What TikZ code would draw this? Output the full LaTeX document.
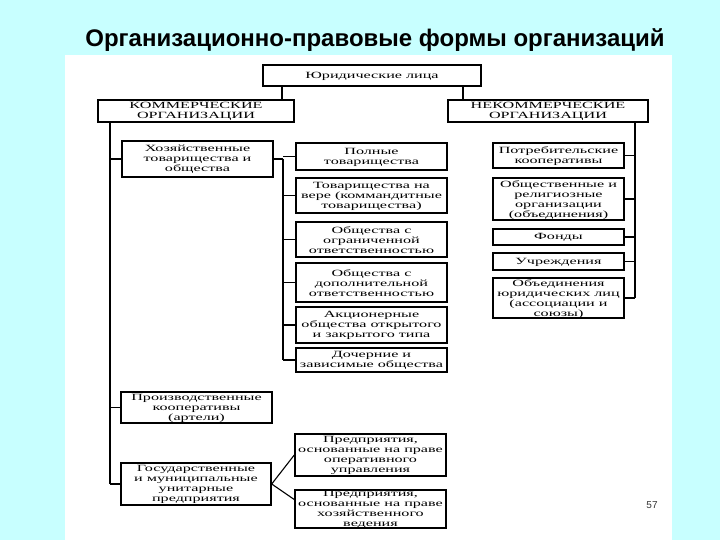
\documentclass[tikz,border=0pt]{standalone}
\usepackage{fontspec}
\setmainfont{Liberation Serif}
\newfontfamily\boxfont[FakeStretch=1.7]{Liberation Serif}
\newfontfamily\titlefont{Liberation Sans}
\usetikzlibrary{calc}
\definecolor{bgcyan}{RGB}{200,255,255}
\newcommand\orgnode[5]{%
  \node[orgbox,minimum width=#2,minimum height=#3] (#1) at (#4) {};
  \node[orgtext] (#1-t) at ($(#1.center)+(0,0.7)$) {#5};}
\begin{document}
\begin{tikzpicture}[x=1pt,y=-1pt,
  orgbox/.style={draw,line width=1.4pt,inner sep=0pt},
  orgtext/.style={align=center,inner sep=0pt,
    font=\boxfont\fontsize{9.5}{10}\selectfont},
  link/.style={line width=1.1pt}]
\fill[bgcyan] (0,0) rectangle (720,540);
\useasboundingbox (0,0) rectangle (720,540);
\fill[white] (65,55) rectangle (672,540);
\node[font=\titlefont\bfseries\fontsize{24}{28}\selectfont] (title) at (375,40) {Организационно-правовые формы организаций};
\node[font=\titlefont\fontsize{10}{12}\selectfont,text=black!80] (page) at (652,505) {57};
% level 1-2
\orgnode{top}{218pt}{21pt}{372,75.5}{Юридические лица}
\orgnode{kom}{196pt}{22pt}{196,111}{КОММЕРЧЕСКИЕ\\ОРГАНИЗАЦИИ}
\orgnode{nekom}{200pt}{22pt}{548,111}{НЕКОММЕРЧЕСКИЕ\\ОРГАНИЗАЦИИ}
% left column
\orgnode{hoz}{151pt}{36pt}{197.5,159}{Хозяйственные\\товарищества и\\общества}
\orgnode{prod}{151pt}{31pt}{196.5,407.5}{Производственные\\кооперативы\\(артели)}
\orgnode{gos}{150pt}{42pt}{196,484}{Государственные\\и муниципальные\\унитарные\\предприятия}
% middle column
\orgnode{m1}{151pt}{27pt}{371.5,156.5}{Полные\\товарищества}
\orgnode{m2}{151pt}{35pt}{371.5,195.5}{Товарищества на\\вере (коммандитные\\товарищества)}
\orgnode{m3}{151pt}{35pt}{371.5,239.5}{Общества с\\ограниченной\\ответственностью}
\orgnode{m4}{151pt}{39pt}{371.5,282.5}{Общества с\\дополнительной\\ответственностью}
\orgnode{m5}{151pt}{36pt}{371.5,325}{Акционерные\\общества открытого\\и закрытого типа}
\orgnode{m6}{151pt}{24pt}{371.5,360}{Дочерние и\\зависимые общества}
\orgnode{pa}{151pt}{42pt}{370.5,455}{Предприятия,\\основанные на праве\\оперативного\\управления}
\orgnode{pb}{151pt}{38pt}{370.5,509}{Предприятия,\\основанные на праве\\хозяйственного\\ведения}
% right column
\orgnode{r1}{131pt}{25pt}{558.5,155.5}{Потребительские\\кооперативы}
\orgnode{r2}{131pt}{42pt}{558.5,199}{Общественные и\\религиозные\\организации\\(объединения)}
\orgnode{r3}{131pt}{16pt}{558.5,237}{Фонды}
\orgnode{r4}{131pt}{17pt}{558.5,261.5}{Учреждения}
\orgnode{r5}{131pt}{40pt}{558.5,298}{Объединения\\юридических лиц\\(ассоциации и\\союзы)}
% trunk coordinates
\coordinate (kx) at (282,0);
\coordinate (nx) at (463,0);
\coordinate (lx) at (110,0);
\coordinate (mx) at (283,0);
\coordinate (rx) at (635,0);
\draw[link] (top.south -| kx) -- (kom.north -| kx);
\draw[link] (top.south -| nx) -- (nekom.north -| nx);
% left trunk
\draw[link] (kom.south -| lx) -- (gos.west -| lx);
\foreach \n in {hoz,prod,gos} \draw[link] (\n.west -| lx) -- (\n.west);
% middle trunk
\draw[link] (hoz.east) -- (hoz.east -| mx);
\draw[link] (hoz.east -| mx) -- (m6.west -| mx);
\foreach \n in {m1,m2,m3,m4,m5,m6} \draw[link] (\n.west -| mx) -- (\n.west);
% right trunk
\draw[link] (nekom.south -| rx) -- (r5.east -| rx);
\foreach \n in {r1,r2,r3,r4,r5} \draw[link] (\n.east) -- (\n.east -| rx);
% state enterprises
\draw[link] (gos.east) -- (pa.west);
\draw[link] (gos.east) -- ($(pb.north west)!0.26!(pb.south west)$);
\end{tikzpicture}
\end{document}
